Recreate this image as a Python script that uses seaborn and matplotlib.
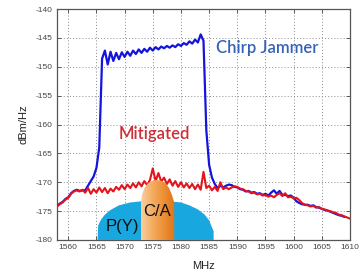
import numpy as np
import pandas as pd
import matplotlib
matplotlib.use("Agg")
import matplotlib.pyplot as plt
from matplotlib.patches import Polygon
from matplotlib.colors import LinearSegmentedColormap
import seaborn as sns

# ---------------- data ----------------
freq_start, freq_step = 1558.0, 0.5

jammer = [
    -174.1, -173.7, -173.4, -172.9, -172.6, -171.9, -171.5, -171.3, -171.5, -171.4,
    -171.4, -170.6, -169.8, -169.0, -167.5, -164.0, -148.6, -147.2, -149.6, -147.4,
    -149.0, -147.6, -148.7, -147.5, -148.3, -147.4, -148.1, -147.2, -147.8, -147.0,
    -147.6, -146.9, -147.4, -146.7, -147.2, -146.6, -147.0, -146.5, -146.8, -146.4,
    -146.7, -146.3, -146.6, -146.1, -146.4, -145.9, -146.2, -145.6, -146.0, -145.3,
    -145.8, -144.4, -145.5, -161.0, -167.0, -169.2, -170.3, -171.0, -170.6, -170.9,
    -170.6, -170.4, -170.5, -170.8, -170.9, -171.2, -171.3, -171.6, -171.5, -171.8,
    -171.7, -172.0, -171.9, -172.2, -172.0, -172.3, -171.8, -171.4, -172.0, -171.5,
    -172.2, -172.2, -172.4, -172.3, -172.7, -173.3, -173.6, -173.8, -173.9, -173.9,
    -174.1, -174.0, -174.3, -174.4, -174.6, -174.8, -174.9, -175.1, -175.3, -175.5,
    -175.7, -175.8, -176.0,
]

mitigated = [
    -174.2, -173.8, -173.5, -173.0, -172.7, -172.0, -171.6, -171.4, -171.6, -171.3,
    -171.8, -171.0, -172.0, -171.2, -171.8, -170.9, -171.7, -171.0, -171.9, -171.1,
    -171.6, -170.8, -171.3, -170.5, -171.2, -170.4, -171.0, -170.2, -170.9, -170.0,
    -170.7, -169.8, -170.5, -169.6, -167.6, -169.8, -168.4, -169.9, -169.2, -170.3,
    -169.5, -170.6, -169.8, -170.8, -170.0, -170.9, -170.2, -171.0, -170.3, -171.2,
    -170.4, -171.3, -168.2, -171.0, -170.6, -171.4, -170.8, -171.5, -170.0, -171.2,
    -170.9, -171.2, -170.9, -170.7, -170.8, -171.1, -171.2, -171.5, -171.6, -171.9,
    -171.8, -172.1, -172.0, -172.3, -172.2, -172.5, -172.3, -172.6, -172.2, -171.9,
    -172.4, -171.9, -172.6, -172.5, -172.8, -172.7, -173.1, -173.6, -173.9, -174.0,
    -174.2, -174.1, -174.4, -174.3, -174.6, -174.7, -174.9, -175.0, -175.2, -175.3,
    -175.6, -175.7, -175.9, -176.1, -176.3,
]

# P(Y) signal outline (MHz, dBm/Hz)
py_freq = [1565.2, 1565.3, 1565.8, 1566.5, 1567.5, 1569.0, 1571.0, 1573.0,
           1578.0, 1580.0, 1581.5, 1583.0, 1584.2, 1585.0, 1585.5, 1585.8, 1585.8]
py_level = [-180.0, -177.5, -176.5, -175.6, -174.8, -174.0, -173.5, -173.3,
            -173.3, -173.5, -174.0, -174.7, -175.6, -176.6, -177.8, -178.5, -180.0]

# C/A signal outline
ca_freq = [1572.9, 1572.9, 1573.1, 1573.5, 1574.1, 1574.8, 1575.6, 1576.4,
           1577.2, 1577.9, 1578.4, 1578.8, 1578.8]
ca_level = [-180.0, -173.5, -172.2, -171.0, -170.2, -169.8, -169.6, -169.7,
            -170.1, -171.0, -172.2, -173.5, -180.0]

x_ticks = [1560, 1565, 1570, 1575, 1580, 1585, 1590, 1595, 1600, 1605, 1610]
y_ticks = [-180, -175, -170, -165, -160, -155, -150, -145, -140]

# ---------------- figure ----------------
sns.set_theme(style="white")
plt.rcParams["font.family"] = ["Liberation Sans", "DejaVu Sans"]

fig = plt.figure(figsize=(3.64, 2.72), dpi=100)
ax = fig.add_axes([57 / 364, 1 - 240 / 272, 293 / 364, 231 / 272])

n = len(mitigated)
freq = freq_start + freq_step * np.arange(n)
df = pd.DataFrame({
    "MHz": np.concatenate([freq, freq[:len(jammer)]]),
    "dBm/Hz": mitigated + jammer,
    "series": ["Mitigated"] * n + ["Chirp Jammer"] * len(jammer),
})

sns.lineplot(data=df[df.series == "Chirp Jammer"], x="MHz", y="dBm/Hz",
             color="#1414dc", lw=1.6, ax=ax, zorder=3, legend=False)
sns.lineplot(data=df[df.series == "Mitigated"], x="MHz", y="dBm/Hz",
             color="#e4141c", lw=1.5, ax=ax, zorder=4, legend=False)

# P(Y) shape
py_poly = Polygon(list(zip(py_freq, py_level)), closed=True,
                  facecolor="#19a7e0", edgecolor="none", zorder=5)
ax.add_patch(py_poly)

# C/A shape with gradient
ca_poly = Polygon(list(zip(ca_freq, ca_level)), closed=True,
                  facecolor="none", edgecolor="none", zorder=6)
ax.add_patch(ca_poly)
cmap = LinearSegmentedColormap.from_list("ca", ["#f9cfa0", "#f4ad62", "#ec9036", "#de7418"])
grad = np.linspace(0, 1, 256).reshape(1, -1)
im = ax.imshow(grad, cmap=cmap, aspect="auto",
               extent=[min(ca_freq), max(ca_freq), -180, max(ca_level)],
               zorder=6, interpolation="bilinear")
im.set_clip_path(ca_poly)

ax.text(1569.6, -177.6, "P(Y)", fontsize=12, color="#111111",
        ha="center", va="center", zorder=7)
ax.text(1575.7, -175.1, "C/A", fontsize=12, color="#111111",
        ha="center", va="center", zorder=7)

ax.text(1586.2, -146.8, "Chirp Jammer", fontsize=12, color="#3562b8",
        family=["Lato", "DejaVu Sans"], fontweight="semibold",
        ha="left", va="center", zorder=7)
ax.text(1575.3, -161.6, "Mitigated", fontsize=12, color="#cc3036",
        family=["Lato", "DejaVu Sans"], fontweight="semibold",
        ha="center", va="center", zorder=7)

ax.set_xlim(1558, 1610)
ax.set_ylim(-180, -140)
ax.set_xticks(x_ticks)
ax.set_yticks(y_ticks)
tick_font = ["Liberation Sans Narrow", "Liberation Sans", "DejaVu Sans"]
ax.set_xticklabels([str(t) for t in x_ticks], family=tick_font, fontsize=6, color="#444444")
ax.set_yticklabels([str(t) for t in y_ticks], family=tick_font, fontsize=6, color="#444444")
ax.tick_params(direction="in", length=3, width=0.6, color="#444444", pad=3,
               top=True, right=True, bottom=True, left=True)

ax.grid(True, color="#8a8a8a", linestyle=(0, (1, 2.2)), linewidth=0.7)
ax.set_axisbelow(True)
for s in ax.spines.values():
    s.set_color("#555555")
    s.set_linewidth(0.9)

ax.set_xlabel("MHz", fontsize=8, color="#222222", labelpad=7)
ax.set_ylabel("dBm/Hz", fontsize=8, color="#222222", labelpad=5)

fig.savefig("out.png", dpi=100)
